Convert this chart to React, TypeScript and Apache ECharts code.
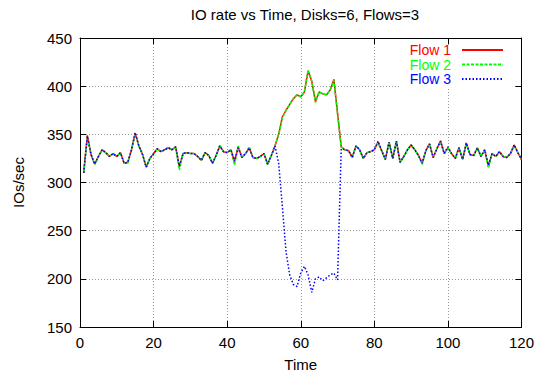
import React, { useEffect, useRef } from "react";
import * as echarts from "echarts";

const TITLE = "IO rate vs Time, Disks=6, Flows=3";
const X_NAME = "Time";
const Y_NAME = "IOs/sec";
const SERIES_NAMES = ["Flow 1", "Flow 2", "Flow 3"];
const COLORS = ["#ff0000", "#00ff00", "#0000ff"];

// IO rate samples, one per time step (t = 1..120)
const FLOW1 = [
  310, 349, 329, 319, 327, 334, 331, 327, 330, 327,
  331, 320, 321, 334, 351, 338, 329, 316, 325, 330,
  335, 332, 334, 336, 334, 337, 316, 330, 331, 330,
  330, 327, 323, 331, 328, 320, 328, 338, 332, 331,
  334, 322, 337, 326, 330, 336, 326, 325, 327, 330,
  319, 328, 338, 350, 368, 375, 381, 387, 391, 389,
  394, 416, 405, 384, 394, 392, 391, 396, 407, 372,
  337, 334, 333, 326, 338, 334, 325, 331, 332, 334,
  342, 333, 324, 342, 325, 343, 321, 327, 334, 339,
  334, 328, 320, 333, 340, 326, 335, 343, 330, 336,
  330, 325, 336, 324, 341, 329, 328, 336, 327, 334,
  317, 330, 327, 332, 327, 326, 330, 339, 331, 324,
];
const FLOW2 = [
  310, 347, 329, 319, 327, 333, 331, 327, 330, 327,
  331, 320, 320, 334, 351, 338, 329, 316, 325, 329,
  335, 332, 334, 337, 334, 337, 313, 330, 331, 330,
  330, 327, 323, 331, 328, 320, 328, 339, 332, 331,
  334, 318, 338, 326, 330, 337, 326, 325, 327, 330,
  319, 328, 338, 350, 367, 375, 381, 387, 391, 389,
  394, 417, 405, 383, 394, 392, 391, 396, 406, 372,
  337, 334, 333, 326, 338, 334, 325, 331, 332, 334,
  341, 333, 324, 342, 325, 342, 321, 327, 334, 339,
  334, 328, 319, 333, 340, 326, 335, 342, 330, 336,
  330, 325, 336, 324, 340, 329, 328, 336, 327, 334,
  315, 330, 327, 332, 327, 326, 330, 338, 331, 324,
];
const FLOW3 = [
  310, 348, 329, 319, 327, 334, 331, 327, 330, 327,
  331, 320, 321, 334, 352, 338, 329, 316, 325, 330,
  335, 332, 334, 336, 334, 337, 317, 330, 331, 330,
  330, 327, 323, 331, 328, 320, 328, 338, 332, 331,
  334, 322, 336, 326, 330, 336, 326, 325, 327, 330,
  319, 328, 338, 320, 275, 228, 204, 194, 192, 206,
  213, 204, 186, 200, 202, 198, 201, 204, 206, 199,
  335, 334, 333, 326, 338, 334, 325, 331, 332, 334,
  343, 333, 324, 342, 325, 343, 321, 327, 334, 339,
  334, 328, 320, 333, 340, 326, 335, 343, 330, 337,
  330, 325, 336, 324, 341, 329, 328, 336, 327, 334,
  318, 330, 327, 332, 327, 326, 330, 339, 331, 324,
];
const FLOWS = [FLOW1, FLOW2, FLOW3];
const TIME = FLOW1.map((_, i) => i + 1);

const X_MIN = 0;
const X_MAX = 120;
const X_STEP = 20;
const Y_MIN = 150;
const Y_MAX = 450;
const Y_STEP = 50;

const FONT = "'Liberation Sans', Arial, Helvetica, sans-serif";

export default function App() {
  const ref = useRef<HTMLDivElement>(null);

  useEffect(() => {
    if (!ref.current) return;
    const chart = echarts.init(ref.current, undefined, { renderer: "svg" });

    const dashes: any[] = ["solid", [3, 1.5], [1.5, 2]];
    const widths = [1.5, 1.5, 1.5];

    const axisCommon = {
      type: "value",
      axisLine: { show: true, onZero: false, lineStyle: { color: "#000", width: 1 } },
      axisTick: { show: true, inside: true, length: 6, lineStyle: { color: "#000", width: 1 } },
    };

    const option: any = {
      animation: false,
      backgroundColor: "#ffffff",
      title: {
        text: TITLE,
        left: 300,
        textAlign: "center",
        top: 2,
        textStyle: { fontFamily: FONT, fontSize: 15, fontWeight: "normal", color: "#000" },
      },
      grid: { left: 80, right: 17.5, top: 38, bottom: 49, containLabel: false },
      legend: {
        orient: "vertical",
        right: 35,
        top: 43,
        align: "right",
        padding: 0,
        itemWidth: 41,
        itemHeight: 14,
        itemGap: 0.5,
        itemStyle: { opacity: 0, color: "transparent", borderWidth: 0 },
        textStyle: { fontFamily: FONT, fontSize: 14, lineHeight: 14, padding: [0, 6, 0, 0] },
        data: SERIES_NAMES.map((n, i) => ({ name: n, textStyle: { color: COLORS[i] } })),
      },
      graphic: [
        {
          type: "rect",
          left: 400,
          top: 45,
          z: 1,
          shape: { width: 113, height: 43 },
          style: { fill: "#ffffff" },
        },
      ],
      xAxis: [
        {
          ...axisCommon,
          min: X_MIN,
          max: X_MAX,
          interval: X_STEP,
          position: "bottom",
          name: X_NAME,
          nameLocation: "middle",
          nameGap: 30,
          nameTextStyle: { fontFamily: FONT, fontSize: 15, color: "#000" },
          axisLabel: { fontFamily: FONT, fontSize: 15, color: "#000", margin: 8 },
          splitLine: { show: true, lineStyle: { color: "#999", type: [1, 2], width: 1 } },
        },
        {
          ...axisCommon,
          min: X_MIN,
          max: X_MAX,
          interval: X_STEP,
          position: "top",
          axisLabel: { show: false },
          splitLine: { show: false },
        },
      ],
      yAxis: [
        {
          ...axisCommon,
          min: Y_MIN,
          max: Y_MAX,
          interval: Y_STEP,
          position: "left",
          name: Y_NAME,
          nameLocation: "middle",
          nameGap: 54,
          nameRotate: 90,
          nameTextStyle: { fontFamily: FONT, fontSize: 15, color: "#000" },
          axisLabel: { fontFamily: FONT, fontSize: 15, color: "#000", margin: 8 },
          splitLine: { show: true, lineStyle: { color: "#999", type: [1, 2], width: 1 } },
        },
        {
          ...axisCommon,
          min: Y_MIN,
          max: Y_MAX,
          interval: Y_STEP,
          position: "right",
          axisLabel: { show: false },
          splitLine: { show: false },
        },
      ],
      series: SERIES_NAMES.map((name, i) => ({
        name,
        type: "line",
        xAxisIndex: 0,
        yAxisIndex: 0,
        data: FLOWS[i].map((v, j) => [TIME[j], v]),
        symbol: "none",
        color: COLORS[i],
        lineStyle: { color: COLORS[i], width: widths[i], type: dashes[i] },
        z: 2 + i,
      })),
    };

    chart.setOption(option);
    return () => chart.dispose();
  }, []);

  return <div ref={ref} style={{ width: 539, height: 377, position: "absolute", left: 0, top: 0 }} />;
}
